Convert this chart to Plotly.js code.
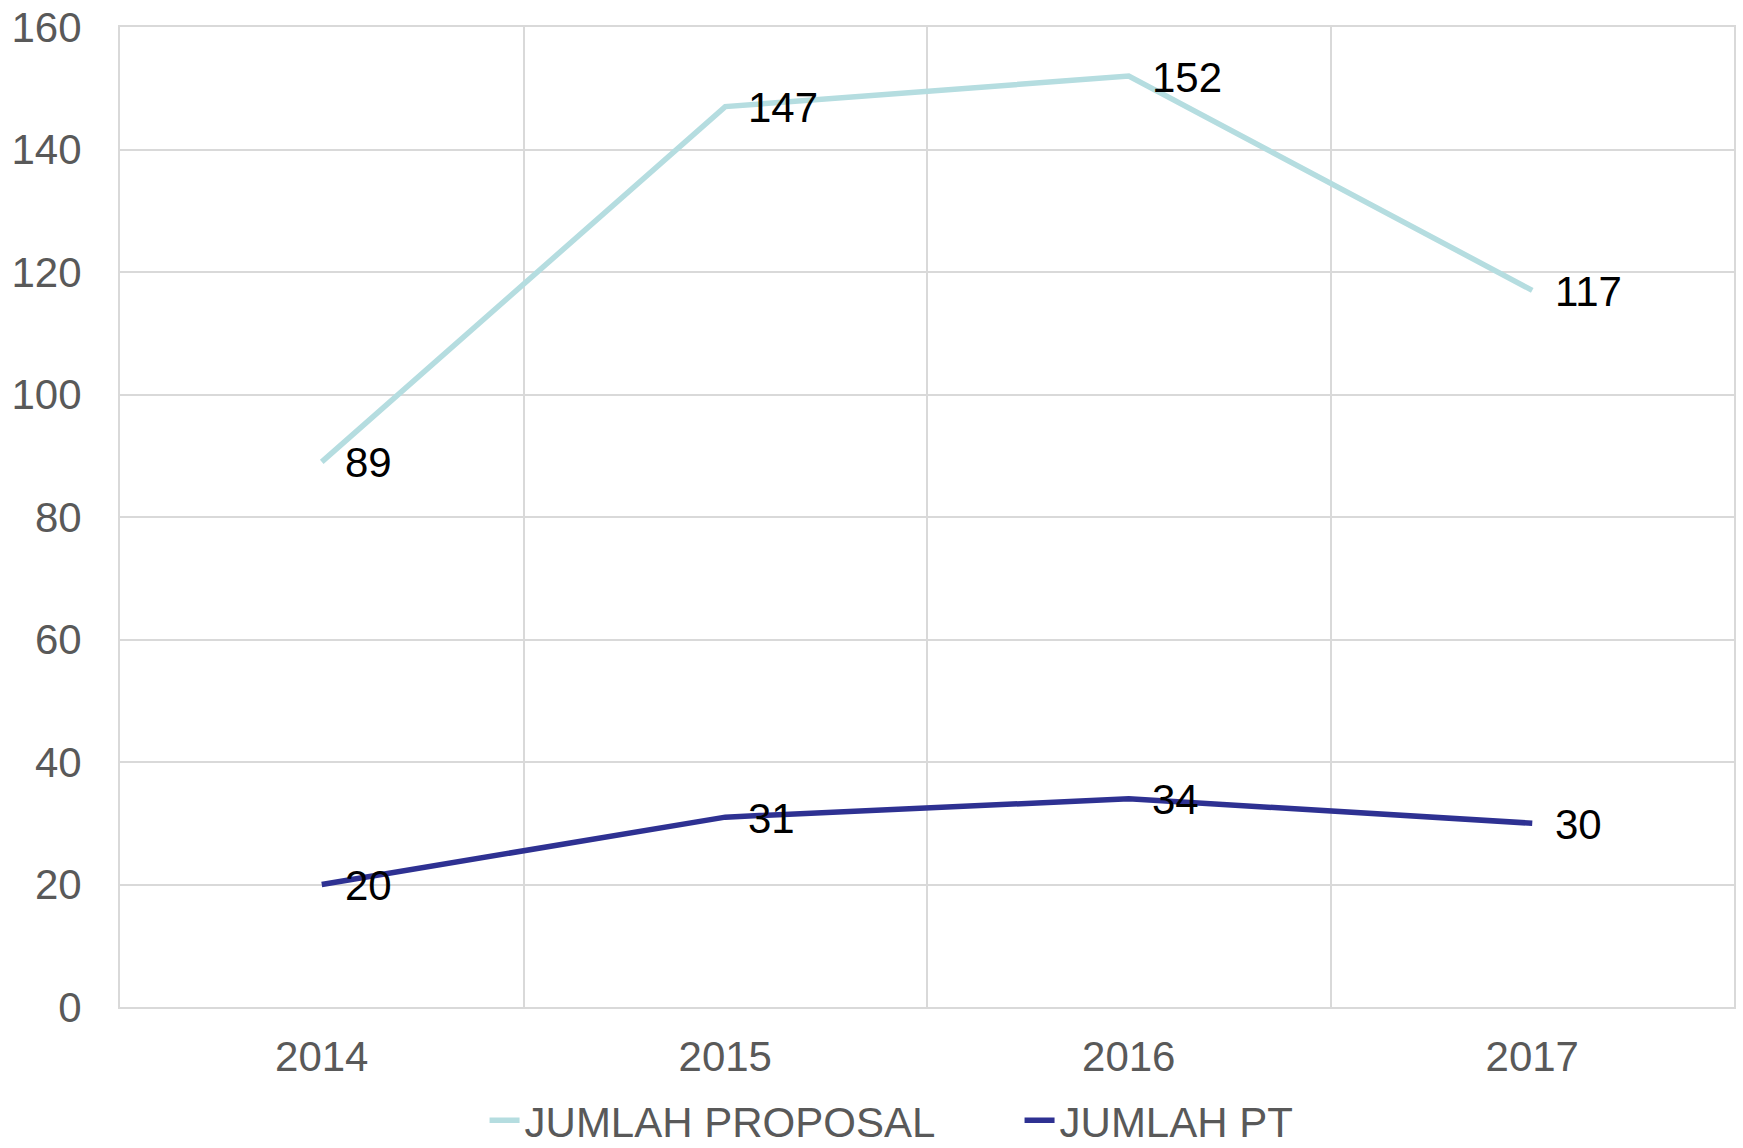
<!DOCTYPE html>
<html>
<head>
<meta charset="utf-8">
<script src="https://cdn.plot.ly/plotly-3.0.1.min.js"></script>
<style>html,body{margin:0;padding:0;background:#fff;}#chart{width:1743px;height:1148px;}</style>
</head>
<body>
<div id="chart"></div>
<script>
const years = ["2014", "2015", "2016", "2017"];
const jumlahProposal = [89, 147, 152, 117];
const jumlahPT = [20, 31, 34, 30];
const seriesNames = ["JUMLAH PROPOSAL", "JUMLAH PT"];
const seriesColors = ["#b5dde0", "#2e3192"];
const yTicks = [0, 20, 40, 60, 80, 100, 120, 140, 160];

const FONT = "Liberation Sans, Arial, sans-serif";

function lineTrace(name, values, color) {
  return {
    type: "scatter",
    mode: "lines",
    name: name,
    x: years,
    y: values,
    line: {color: color, width: 5.5, shape: "linear"},
    cliponaxis: false
  };
}

const data = [
  lineTrace(seriesNames[0], jumlahProposal, seriesColors[0]),
  lineTrace(seriesNames[1], jumlahPT, seriesColors[1])
];

// data labels, built from the series arrays (x = category index)
const annotations = [];
[jumlahProposal, jumlahPT].forEach(function (vals) {
  vals.forEach(function (v, i) {
    annotations.push({
      x: i,
      y: v,
      xref: "x",
      yref: "y",
      text: String(v),
      showarrow: false,
      xanchor: "left",
      yanchor: "middle",
      xshift: 21,
      yshift: -1,
      font: {family: FONT, size: 42, color: "#000000"}
    });
  });
});

const layout = {
  width: 1743,
  height: 1148,
  margin: {l: 120, r: 9, t: 27, b: 141, pad: 0},
  paper_bgcolor: "#ffffff",
  plot_bgcolor: "#ffffff",
  font: {family: FONT, color: "#595959", size: 42},
  showlegend: true,
  annotations: annotations,
  legend: {
    orientation: "h",
    xref: "container",
    yref: "container",
    x: 0.278,
    xanchor: "left",
    y: 0.024,
    yanchor: "middle",
    font: {family: FONT, size: 42, color: "#595959"},
    itemwidth: 30,
    entrywidth: 490,
    entrywidthmode: "pixels",
    traceorder: "normal"
  },
  xaxis: {
    type: "category",
    categoryorder: "array",
    categoryarray: years,
    range: [-0.5, 3.5],
    tickson: "boundaries",
    showgrid: true,
    gridcolor: "#d9d9d9",
    gridwidth: 2,
    showline: true,
    linecolor: "#d9d9d9",
    linewidth: 2,
    mirror: true,
    ticks: "",
    ticklabelstandoff: 12,
    tickfont: {family: FONT, size: 42, color: "#595959"},
    zeroline: false,
    fixedrange: true
  },
  yaxis: {
    range: [0, 160],
    tickvals: yTicks,
    ticktext: yTicks.map(String),
    showgrid: true,
    gridcolor: "#d9d9d9",
    gridwidth: 2,
    showline: true,
    linecolor: "#d9d9d9",
    linewidth: 2,
    mirror: true,
    ticks: "",
    ticklabelstandoff: 28,
    tickfont: {family: FONT, size: 42, color: "#595959"},
    zeroline: false,
    fixedrange: true
  }
};

Plotly.newPlot("chart", data, layout, {displayModeBar: false, staticPlot: true});
</script>
</body>
</html>
